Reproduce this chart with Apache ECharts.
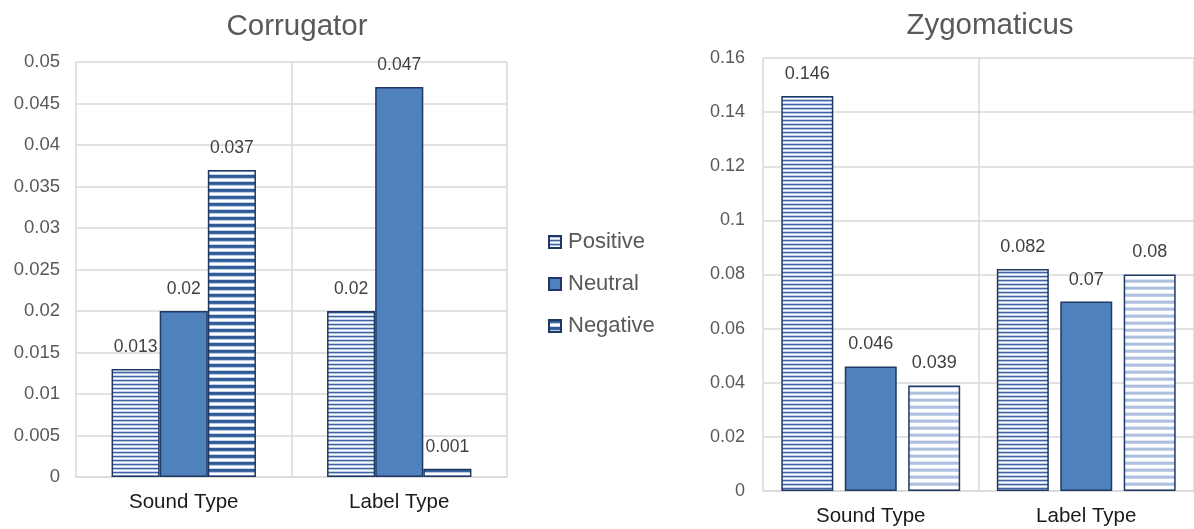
<!DOCTYPE html>
<html><head><meta charset="utf-8">
<script src="https://cdn.jsdelivr.net/npm/echarts@6/dist/echarts.min.js"></script>
<style>html,body{margin:0;padding:0;background:#fff}#c{width:1194px;height:529px}</style>
</head><body><div id="c"></div>
<script>
const categories = ['Sound Type', 'Label Type'];
const seriesNames = ['Positive', 'Neutral', 'Negative'];
const corrPositive = [0.013, 0.02];
const corrNeutral = [0.02, 0.047];
const corrNegative = [0.037, 0.001];
const zygoPositive = [0.146, 0.082];
const zygoNeutral = [0.046, 0.07];
const zygoNegative = [0.039, 0.08];

function stripe(rows) {
  const c = document.createElement('canvas');
  c.width = 8; c.height = rows.length;
  const ctx = c.getContext('2d');
  rows.forEach((col, i) => { ctx.fillStyle = col; ctx.fillRect(0, i, 8, 1); });
  return { image: c, repeat: 'repeat' };
}
const patPositive = stripe(['#3f669e', '#adc0e2', '#ffffff', '#c2d1eb']);
const patNegDark = stripe(['#2f5a93', '#2f5a93', '#3b6aa3', '#b9c9e4', '#ffffff', '#ffffff', '#c4d2ea']);
const patNegLight = stripe(['#aebfdf', '#aebfdf', '#c3d0e9', '#ffffff', '#ffffff', '#ffffff', '#dfe6f3']);
const neutralColor = '#4f81bd';
const border = '#203864';
const font = "'Liberation Sans', Arial, sans-serif";

const chart = echarts.init(document.getElementById('c'));

function bar(name, data, idx, fill, fs, dist, gap, catGap) {
  return {
    name, type: 'bar', data, xAxisIndex: idx, yAxisIndex: idx,
    barGap: gap, barCategoryGap: catGap,
    itemStyle: { color: fill, borderColor: border, borderWidth: 1.5 },
    label: { show: true, position: 'top', distance: dist, color: '#404040', fontSize: fs, fontFamily: font },
    emphasis: { disabled: true }
  };
}

const xBase = (gridIdx) => ({
  type: 'category', data: categories, gridIndex: gridIdx,
  axisLine: { lineStyle: { color: '#d9d9d9', width: 1.5 } },
  axisTick: { show: false },
  splitLine: { show: true, lineStyle: { color: '#d9d9d9', width: 1.5 } },
  axisLabel: { color: '#1a1a1a', fontSize: 20.5, margin: 15, fontFamily: font }
});

chart.setOption({
  animation: false,
  title: [
    { text: 'Corrugator', left: 292, top: 7, textAlign: 'center', textStyle: { fontSize: 29.5, fontWeight: 'normal', color: '#595959', fontFamily: font } },
    { text: 'Zygomaticus', left: 985, top: 6, textAlign: 'center', textStyle: { fontSize: 29.5, fontWeight: 'normal', color: '#595959', fontFamily: font } }
  ],
  legend: {
    data: seriesNames, orient: 'vertical', left: 543, top: 226,
    itemWidth: 12, itemHeight: 12, itemGap: 20, icon: 'rect',
    textStyle: { fontSize: 22, color: '#595959', fontFamily: font, padding: [0, 0, 0, 2] }
  },
  grid: [
    { left: 76, top: 62, width: 431, height: 415 },
    { left: 763, top: 58, width: 440, height: 433 }
  ],
  xAxis: [xBase(0), xBase(1)],
  yAxis: [
    { type: 'value', gridIndex: 0, min: 0, max: 0.05, interval: 0.005,
      axisLine: { show: false }, axisTick: { show: false },
      splitLine: { lineStyle: { color: '#d9d9d9', width: 1.5 } },
      axisLabel: { color: '#595959', fontSize: 18.5, margin: 16, fontFamily: font } },
    { type: 'value', gridIndex: 1, min: 0, max: 0.16, interval: 0.02,
      axisLine: { show: false }, axisTick: { show: false },
      splitLine: { lineStyle: { color: '#d9d9d9', width: 1.5 } },
      axisLabel: { color: '#595959', fontSize: 18, margin: 18, fontFamily: font } }
  ],
  series: [
    bar('Positive', corrPositive, 0, patPositive, 17.5, 13, '0%', '33%'),
    bar('Neutral', corrNeutral, 0, neutralColor, 17.5, 13, '0%', '33%'),
    bar('Negative', corrNegative, 0, patNegDark, 17.5, 13, '0%', '33%'),
    bar('Positive', zygoPositive, 1, patPositive, 18, 13, '22%', '17%'),
    bar('Neutral', zygoNeutral, 1, neutralColor, 18, 13, '22%', '17%'),
    bar('Negative', zygoNegative, 1, patNegLight, 18, 13, '22%', '17%')
  ]
});
</script></body></html>
